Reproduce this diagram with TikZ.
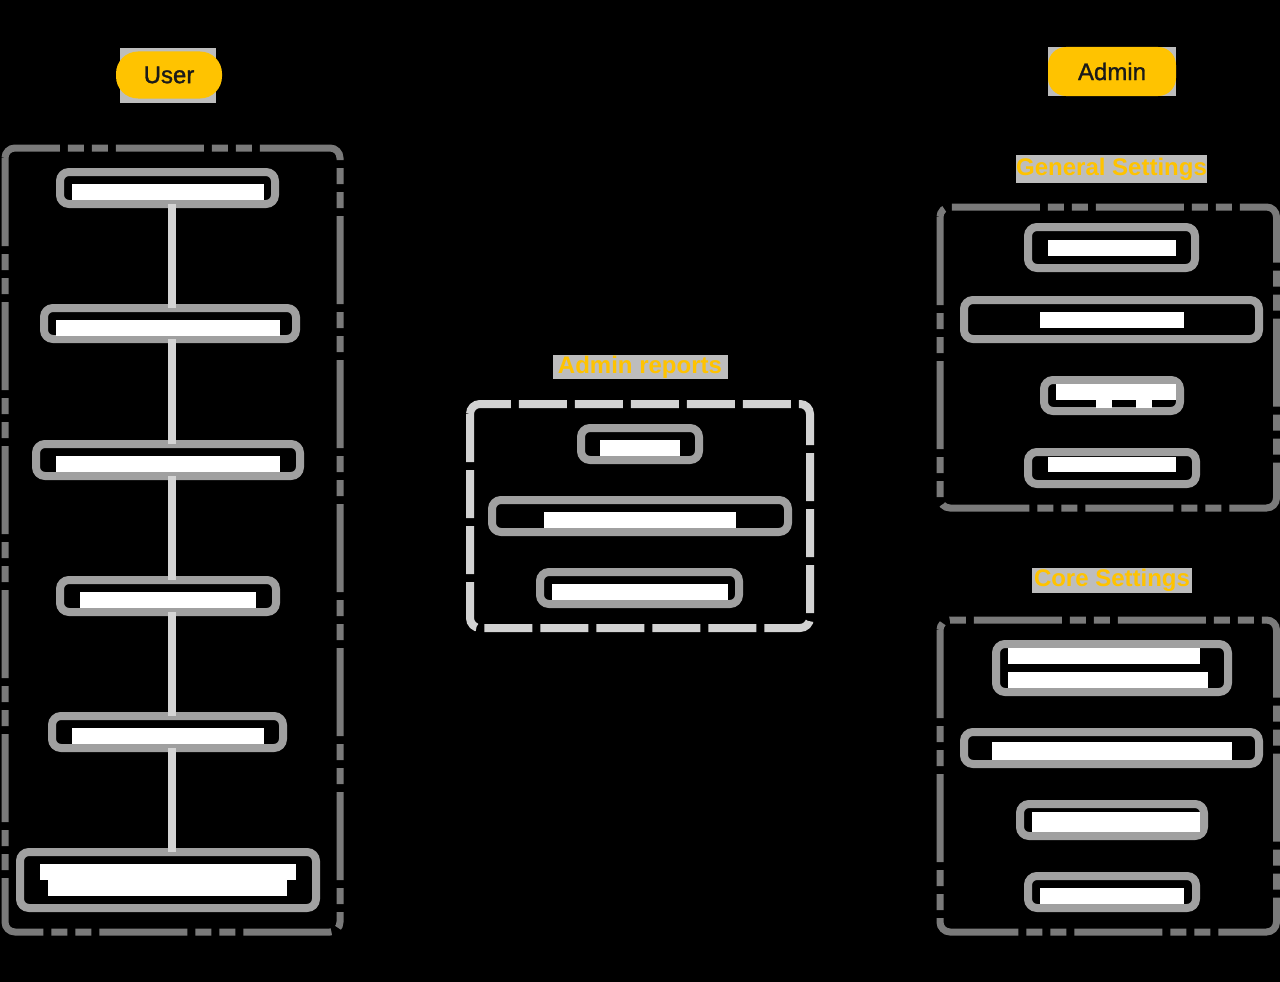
\documentclass[tikz,border=0pt]{standalone}
\usepackage{fontspec}
\setmainfont{Liberation Sans}
\newfontfamily\pillfont{Liberation Sans}[FakeBold=1.2]
\definecolor{ugrey}{HTML}{7A7A7A}
\definecolor{rgrey}{HTML}{D2D2D2}
\definecolor{nodegrey}{HTML}{A0A0A0}
\definecolor{conngrey}{HTML}{D4D4D4}
\definecolor{hdrgrey}{HTML}{BDBDBD}
\definecolor{hdryellow}{HTML}{FFC300}
\definecolor{txtdark}{HTML}{1A1A1A}
\begin{document}
\begin{tikzpicture}[x=1pt,y=-1pt,
  container/.style={draw=#1,line width=7pt,rounded corners=10pt},
  udash/.style={dash pattern=on 88pt off 8pt on 16pt off 8pt on 16pt off 8pt},
  rdash/.style={dash pattern=on 48pt off 8pt},
  nodebox/.style={draw=nodegrey,line width=8pt,rounded corners=9pt,fill=black,inner sep=0pt,outer sep=0pt},
  conn/.style={draw=conngrey,line width=8pt},
  hdr/.style={fill=hdrgrey,text=hdryellow,font=\fontsize{24}{24}\selectfont\bfseries,inner sep=0pt},
  pill/.style={fill=hdryellow,text=txtdark,font=\fontsize{24}{24}\selectfont\pillfont,inner sep=0pt}
]
% background
\fill[black] (0,0) rectangle (1280,982);
\useasboundingbox (0,0) rectangle (1280,982);

% ---------- User column ----------
\fill[hdrgrey] (120,48) rectangle (216,103);
\node[pill,minimum width=106pt,minimum height=47pt,rounded corners=22pt] (user) at (169,75) {User};

\draw[container=ugrey,udash] (5,148) rectangle (340,932);

\node[nodebox,minimum width=215pt,minimum height=32pt] (U1) at (167.5,188) {};
\node[nodebox,minimum width=252pt,minimum height=31pt] (U2) at (170,323.5) {};
\node[nodebox,minimum width=264pt,minimum height=32pt] (U3) at (168,460) {};
\node[nodebox,minimum width=216pt,minimum height=32pt] (U4) at (168,596) {};
\node[nodebox,minimum width=231pt,minimum height=32pt] (U5) at (167.5,732) {};
\node[nodebox,minimum width=296pt,minimum height=56pt] (U6) at (168,880) {};

\fill[white] (72,184) rectangle (264,200);
\fill[white] (56,320) rectangle (280,336);
\fill[white] (56,456) rectangle (280,472);
\fill[white] (80,592) rectangle (256,608);
\fill[white] (72,728) rectangle (264,744);
\fill[white] (40,864) rectangle (296,880);
\fill[white] (48,880) rectangle (287,896);

\coordinate (lx) at (172,0);
\draw[conn] (U1.south -| lx) -- (U2.north -| lx);
\draw[conn] (U2.south -| lx) -- (U3.north -| lx);
\draw[conn] (U3.south -| lx) -- (U4.north -| lx);
\draw[conn] (U4.south -| lx) -- (U5.north -| lx);
\draw[conn] (U5.south -| lx) -- (U6.north -| lx);

% ---------- Admin reports ----------
\node[hdr,minimum width=175pt,minimum height=24pt] (reports) at (640,367) {Admin reports};
\draw[container=rgrey,rdash,line width=8pt] (470,404) rectangle (810,628);

\node[nodebox,minimum width=118pt,minimum height=32pt] (R1) at (640,444) {};
\node[nodebox,minimum width=296pt,minimum height=32pt] (R2) at (640,516) {};
\node[nodebox,minimum width=199pt,minimum height=32pt] (R3) at (639.5,588) {};
\fill[white] (600,440) rectangle (680,456);
\fill[white] (544,512) rectangle (736,528);
\fill[white] (552,584) rectangle (728,600);

% ---------- Admin column ----------
\fill[hdrgrey] (1048,47) rectangle (1176,96);
\node[pill,minimum width=128pt,minimum height=49pt,rounded corners=18pt] (admin) at (1112,71.5) {Admin};

\node[hdr,minimum width=191pt,minimum height=28pt] (general) at (1111.5,169) {General Settings};
\draw[container=ugrey,udash] (940,207) rectangle (1276.5,508);

\node[nodebox,minimum width=167pt,minimum height=41pt] (G1) at (1111.5,247.5) {};
\node[nodebox,minimum width=295pt,minimum height=39pt] (G2) at (1111.5,319.5) {};
\node[nodebox,minimum width=136pt,minimum height=31pt] (G3) at (1112,395.5) {};
\node[nodebox,minimum width=168pt,minimum height=32pt] (G4) at (1112,468) {};
\fill[white] (1048,240) rectangle (1176,256);
\fill[white] (1040,312) rectangle (1184,328);
\fill[white] (1056,384) rectangle (1176,400);
\fill[white] (1096,400) rectangle (1112,408);
\fill[white] (1136,400) rectangle (1152,408);
\fill[white] (1048,457) rectangle (1176,472);

\node[hdr,minimum width=160pt,minimum height=25pt] (core) at (1112,580) {Core Settings};
\draw[container=ugrey,udash] (940,620) rectangle (1276.5,932);

\node[nodebox,minimum width=232pt,minimum height=48pt] (C1) at (1112,668) {};
\node[nodebox,minimum width=295pt,minimum height=32pt] (C2) at (1111.5,748) {};
\node[nodebox,minimum width=184pt,minimum height=32pt] (C3) at (1112,820) {};
\node[nodebox,minimum width=168pt,minimum height=32pt] (C4) at (1112,892) {};
\fill[white] (1008,648) rectangle (1200,664);
\fill[white] (1008,672) rectangle (1208,688);
\fill[white] (992,742) rectangle (1232,760);
\fill[white] (1032,812) rectangle (1200,832);
\fill[white] (1040,888) rectangle (1184,904);
\end{tikzpicture}
\end{document}
